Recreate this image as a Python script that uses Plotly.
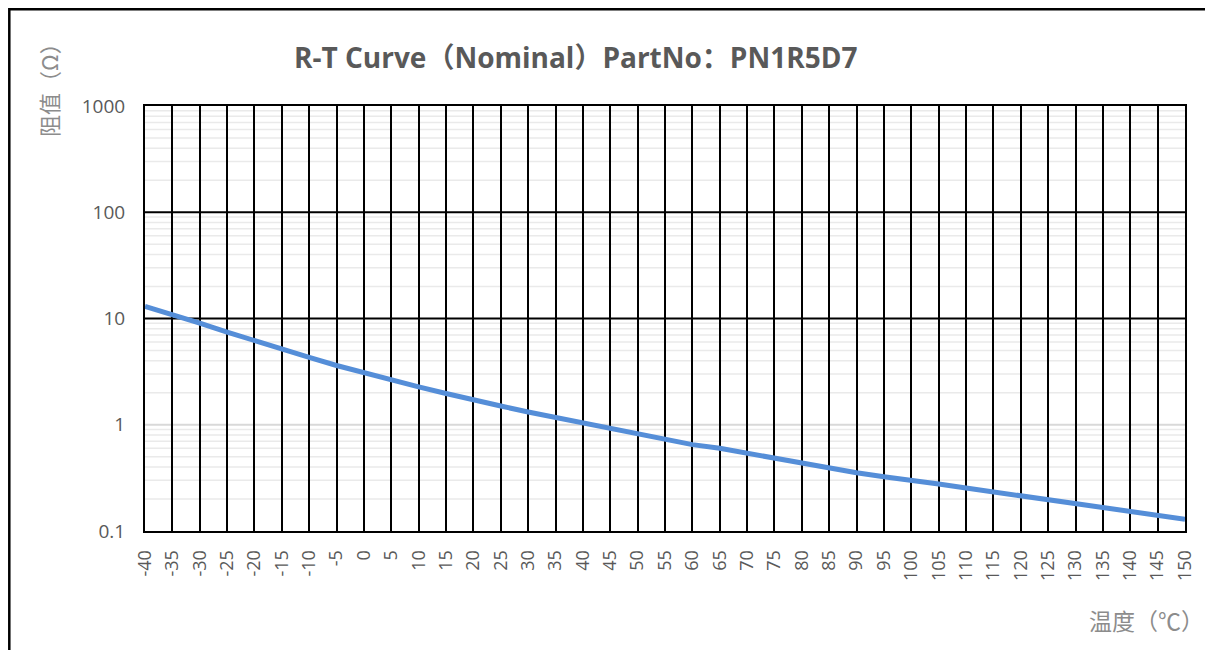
import math
import plotly.graph_objects as go

# ---- data ----
temperatures = list(range(-40, 155, 5))
resistance = [13.0, 11.0, 9.06, 7.45, 6.17, 5.08, 4.30, 3.61, 3.07, 2.67,
              2.27, 1.97, 1.70, 1.50, 1.32, 1.17, 1.05, 0.92, 0.81, 0.73,
              0.65, 0.60, 0.54, 0.475, 0.433, 0.389, 0.353, 0.324, 0.302, 0.277,
              0.254, 0.233, 0.213, 0.199, 0.179, 0.164, 0.152, 0.141, 0.129]
y_tick_values = [0.1, 1, 10, 100, 1000]
y_tick_labels = ["0.1", "1", "10", "100", "1000"]
x_tick_labels = [str(t) for t in temperatures]

title_text = "R-T Curve（Nominal）PartNo：PN1R5D7"
y_title = "阻值（Ω）"
x_title = "温度（℃）"

OFF = 8  # page body margin
W, H = 1213 - OFF, 650 - OFF
L, R, T, B = 145 - OFF, 1185 - OFF, 106 - OFF, 531 - OFF


def px_x(p):
    return (p - OFF - L) / (R - L)


def px_y(p):
    return (B - (p - OFF)) / (B - T)


def val_y(v):
    return (math.log10(v) + 1) / 4


fig = go.Figure()
fig.add_trace(go.Scatter(
    x=temperatures, y=resistance, mode="lines",
    line=dict(color="#558ED8", width=5),
    showlegend=False, hoverinfo="skip",
))

shapes = []
# minor horizontal gridlines
for k in range(-1, 3):
    for m in range(2, 10):
        v = m * 10 ** k
        shapes.append(dict(type="line", xref="paper", yref="paper",
                           x0=0, x1=1, y0=val_y(v), y1=val_y(v),
                           line=dict(color="#EAEAEA", width=1.5), layer="below"))
# major horizontal lines
for v in y_tick_values[1:-1]:
    col = "#D9D9D9" if v == 1 else "black"
    shapes.append(dict(type="line", xref="paper", yref="paper",
                       x0=0, x1=1, y0=val_y(v), y1=val_y(v),
                       line=dict(color=col, width=2), layer="below"))
# outer border
shapes.append(dict(type="rect", xref="paper", yref="paper",
                   x0=px_x(OFF + 1.3), x1=px_x(1210), y0=px_y(662), y1=px_y(OFF + 1.3),
                   line=dict(color="black", width=2.5), fillcolor="rgba(0,0,0,0)",
                   layer="above"))

annotations = [
    dict(text=title_text, xref="paper", yref="paper", x=px_x(575), y=px_y(57),
         xanchor="center", yanchor="middle", showarrow=False,
         font=dict(family="Open Sans, Noto Sans CJK SC", size=28, color="#595959", weight="bold")),
    dict(text=y_title, xref="paper", yref="paper", x=px_x(48), y=px_y(85),
         xanchor="center", yanchor="middle", showarrow=False, textangle=-90,
         font=dict(family="Noto Sans CJK SC", size=22, color="#8C8C8C")),
    dict(text=x_title, xref="paper", yref="paper", x=px_x(1146), y=px_y(620),
         xanchor="center", yanchor="middle", showarrow=False,
         font=dict(family="Noto Sans CJK SC", size=23, color="#8C8C8C")),
]

fig.update_layout(
    width=W, height=H,
    margin=dict(l=L, r=W - R, t=T, b=H - B, pad=0),
    paper_bgcolor="white", plot_bgcolor="white",
    shapes=shapes, annotations=annotations,
    xaxis=dict(
        range=[-40, 150], tickmode="array", tickvals=temperatures, ticktext=x_tick_labels,
        tickangle=-90, showgrid=True, gridcolor="black", gridwidth=2,
        showline=True, linecolor="black", linewidth=2, mirror=True,
        ticks="", zeroline=False, ticklabelstandoff=10,
        tickfont=dict(family="Open Sans", size=18, color="#595959"),
    ),
    yaxis=dict(
        type="log", range=[-1, 3], tickmode="array", tickvals=y_tick_values,
        ticktext=y_tick_labels, showgrid=False,
        showline=True, linecolor="black", linewidth=2, mirror=True,
        ticks="", zeroline=False, ticklabelstandoff=14,
        tickfont=dict(family="Open Sans", size=19, color="#595959"),
    ),
)

fig.write_html("out.html")
